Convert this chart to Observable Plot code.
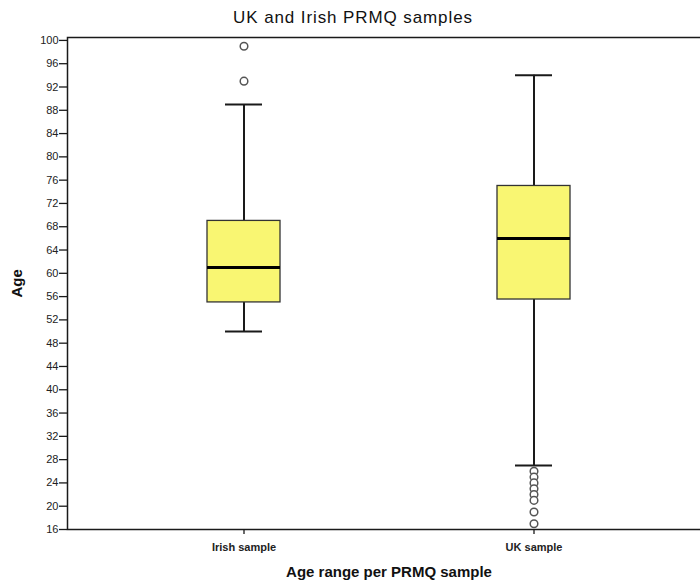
<!DOCTYPE html>
<html><head><meta charset="utf-8">
<script src="https://cdn.jsdelivr.net/npm/d3@7"></script>
<script src="https://cdn.jsdelivr.net/npm/@observablehq/plot@0.6"></script>
<style>
html,body{margin:0;padding:0;background:#fff;overflow:hidden;font-family:"Liberation Sans",Arial,sans-serif;}
#title{height:34px;line-height:35px;text-align:center;font-size:17px;letter-spacing:0.9px;color:#111;padding-left:6px;}
</style></head><body>
<div id="title">UK and Irish PRMQ samples</div>
<div id="chart"></div>
<script>
const categories = ["Irish sample", "UK sample"];
const whiskerLow = [50, 27];
const q1 = [55, 55.5];
const median = [61, 66];
const q3 = [69, 75];
const whiskerHigh = [89, 94];
const outlierGroups = ["Irish sample", "Irish sample", "UK sample", "UK sample", "UK sample", "UK sample", "UK sample", "UK sample", "UK sample", "UK sample"];
const outlierAges = [99, 93, 26, 25, 24, 23, 22, 21, 19, 17];
const yTicks = [16, 20, 24, 28, 32, 36, 40, 44, 48, 52, 56, 60, 64, 68, 72, 76, 80, 84, 88, 92, 96, 100];
const xTitle = "Age range per PRMQ sample";
const yTitle = "Age";

const ink = "#1a1a1a";
const plot = Plot.plot({
  width: 700, height: 551,
  marginLeft: 67, marginRight: -10, marginTop: 3, marginBottom: 56,
  style: {fontFamily: "'Liberation Sans', Arial, sans-serif", fontSize: "11px", color: "#222", overflow: "hidden", background: "white"},
  x: {type: "band", domain: categories, range: [67, 710], paddingInner: 0.75, paddingOuter: 0.48},
  y: {domain: [16, 100.5]},
  marks: [
    Plot.frame({stroke: ink, strokeWidth: 1.5}),
    Plot.axisY({ticks: yTicks, tickSize: 8, tickPadding: 1, label: null, fontSize: 11, stroke: ink, strokeWidth: 1.3}),
    Plot.axisX({tickSize: 5, tickPadding: 9, label: null, fontSize: 11, fontWeight: "bold", stroke: ink, strokeWidth: 1.3}),
    Plot.ruleX(categories, {x: categories, y1: whiskerLow, y2: q1, stroke: ink, strokeWidth: 2}),
    Plot.ruleX(categories, {x: categories, y1: q3, y2: whiskerHigh, stroke: ink, strokeWidth: 2}),
    Plot.tickY(categories, {x: categories, y: whiskerLow, insetLeft: 18, insetRight: 18, stroke: ink, strokeWidth: 2}),
    Plot.tickY(categories, {x: categories, y: whiskerHigh, insetLeft: 18, insetRight: 18, stroke: ink, strokeWidth: 2}),
    Plot.barY(categories, {x: categories, y1: q1, y2: q3, fill: "#f9f672", stroke: "#333", strokeWidth: 1.3}),
    Plot.tickY(categories, {x: categories, y: median, stroke: "#000", strokeWidth: 3}),
    Plot.dot(outlierAges, {x: outlierGroups, y: outlierAges, r: 3.8, stroke: "#555", fill: "white", strokeWidth: 1.5}),
    Plot.text([xTitle], {frameAnchor: "bottom", dy: 47, text: d => d, fontSize: 15, fontWeight: "bold", fill: "#111"}),
    Plot.text([yTitle], {frameAnchor: "left", dx: -50, dy: 14, rotate: -90, text: d => d, fontSize: 15, fontWeight: "bold", fill: "#111"})
  ]
});
document.getElementById("chart").appendChild(plot);
</script>
</body></html>
